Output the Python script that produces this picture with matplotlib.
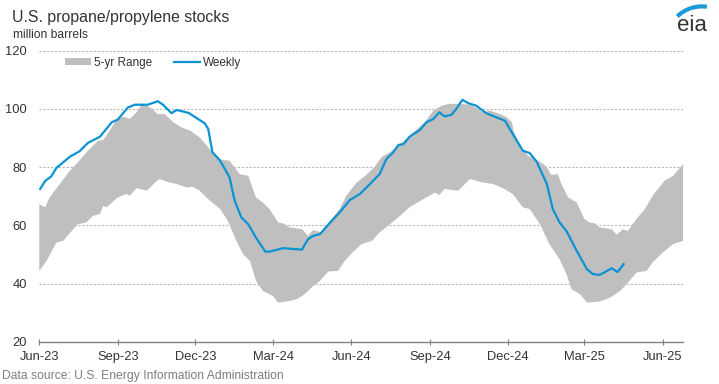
import matplotlib
matplotlib.use("Agg")
import matplotlib.pyplot as plt
import matplotlib.dates as mdates
from matplotlib.patches import Patch, Arc
from matplotlib.lines import Line2D
import numpy as np
import pandas as pd

plt.rcParams['font.family'] = ['Liberation Sans', 'DejaVu Sans']

# ---- data (million barrels) ----
weekly_dates = [
    "2023-06-02", "2023-06-08", "2023-06-15", "2023-06-21", "2023-07-07", "2023-07-18",
    "2023-07-28", "2023-08-11", "2023-08-25", "2023-09-01", "2023-09-13", "2023-09-21",
    "2023-10-06", "2023-10-18", "2023-10-24", "2023-11-03", "2023-11-09", "2023-11-23",
    "2023-12-02", "2023-12-12", "2023-12-16", "2023-12-21", "2023-12-30", "2024-01-10",
    "2024-01-16", "2024-01-24", "2024-02-01", "2024-02-10", "2024-02-21", "2024-02-26",
    "2024-03-13", "2024-03-25", "2024-04-04", "2024-04-11", "2024-04-17", "2024-04-25",
    "2024-05-07", "2024-05-18", "2024-05-30", "2024-06-11", "2024-06-22", "2024-07-04",
    "2024-07-12", "2024-07-20", "2024-07-26", "2024-08-01", "2024-08-08", "2024-08-20",
    "2024-08-28", "2024-09-05", "2024-09-12", "2024-09-18", "2024-09-26", "2024-10-02",
    "2024-10-09", "2024-10-16", "2024-10-25", "2024-11-06", "2024-11-16", "2024-11-28",
    "2024-12-07", "2024-12-19", "2024-12-27", "2025-01-04", "2025-01-16", "2025-01-23",
    "2025-01-31", "2025-02-08", "2025-02-20", "2025-03-04", "2025-03-11", "2025-03-19",
    "2025-04-02", "2025-04-09", "2025-04-16",
]
weekly_values = [
    72.5, 75.3, 76.8, 79.7, 83.6, 85.4,
    88.3, 90.4, 95.4, 96.3, 100.5, 101.4,
    101.4, 102.6, 101.4, 98.5, 99.6, 98.6,
    96.9, 95.0, 93.1, 85.1, 82.2, 76.5,
    68.5, 62.7, 60.4, 55.8, 51.0, 51.0,
    52.2, 51.9, 51.7, 55.3, 56.4, 57.0,
    61.0, 64.4, 68.7, 70.8, 74.0, 77.6,
    82.8, 85.1, 87.6, 87.9, 90.4, 92.7,
    95.4, 96.5, 98.8, 97.4, 97.9, 100.0,
    103.1, 101.9, 101.1, 98.5, 97.3, 95.9,
    91.4, 85.6, 84.8, 81.9, 74.2, 65.6,
    61.0, 58.1, 51.3, 45.0, 43.3, 43.0,
    45.3, 44.0, 46.7,
]

range_upper_dates = [
    "2023-06-01", "2023-06-08", "2023-06-13", "2023-06-25", "2023-07-07", "2023-07-16",
    "2023-07-28", "2023-08-09", "2023-08-15", "2023-08-25", "2023-08-31", "2023-09-08",
    "2023-09-15", "2023-09-23", "2023-09-29", "2023-10-05", "2023-10-11", "2023-10-18",
    "2023-10-26", "2023-11-05", "2023-11-15", "2023-11-25", "2023-12-06", "2023-12-16",
    "2023-12-24", "2024-01-01", "2024-01-10", "2024-01-22", "2024-02-01", "2024-02-10",
    "2024-02-18", "2024-02-26", "2024-03-07", "2024-03-13", "2024-03-21", "2024-04-04",
    "2024-04-11", "2024-04-17", "2024-04-27", "2024-05-07", "2024-05-18", "2024-05-26",
    "2024-06-07", "2024-06-17", "2024-06-27", "2024-07-07", "2024-07-16", "2024-07-28",
    "2024-08-07", "2024-08-17", "2024-08-26", "2024-09-05", "2024-09-15", "2024-09-24",
    "2024-10-06", "2024-10-18", "2024-10-27", "2024-11-02", "2024-11-10", "2024-11-22",
    "2024-11-30", "2024-12-06", "2024-12-08", "2024-12-15", "2024-12-25", "2025-01-06",
    "2025-01-16", "2025-01-21", "2025-01-29", "2025-02-02", "2025-02-10", "2025-02-20",
    "2025-03-01", "2025-03-07", "2025-03-13", "2025-03-19", "2025-04-02", "2025-04-08",
    "2025-04-15", "2025-04-21", "2025-05-01", "2025-05-11", "2025-05-20", "2025-06-03",
    "2025-06-13", "2025-06-25",
]
range_upper = [
    67.3, 66.2, 69.6, 74.2, 78.8, 81.6,
    85.6, 89.1, 89.3, 93.6, 96.5, 97.3,
    96.5, 98.8, 101.4, 101.1, 100.0, 98.2,
    98.2, 95.4, 93.6, 92.5, 90.2, 86.8,
    83.9, 82.5, 82.2, 77.6, 77.0, 69.6,
    67.9, 65.6, 61.0, 60.7, 59.3, 58.7,
    56.4, 58.4, 57.6, 61.6, 65.6, 70.2,
    74.7, 77.0, 79.7, 83.6, 85.1, 87.9,
    90.2, 93.1, 95.4, 99.4, 101.1, 101.7,
    101.7, 101.4, 100.0, 98.8, 99.4, 98.2,
    97.1, 95.4, 92.5, 87.4, 83.9, 82.2,
    80.1, 77.3, 77.6, 74.2, 69.6, 67.9,
    62.2, 61.0, 60.7, 59.3, 58.7, 56.8,
    58.7, 58.1, 62.2, 65.6, 70.2, 75.3,
    77.0, 81.1,
]

range_lower_dates = [
    "2023-06-01", "2023-06-10", "2023-06-21", "2023-06-29", "2023-07-09", "2023-07-16",
    "2023-07-26", "2023-08-03", "2023-08-11", "2023-08-15", "2023-08-19", "2023-08-31",
    "2023-09-11", "2023-09-15", "2023-09-23", "2023-10-05", "2023-10-17", "2023-10-20",
    "2023-11-01", "2023-11-09", "2023-11-21", "2023-11-28", "2023-12-06", "2023-12-18",
    "2023-12-30", "2024-01-08", "2024-01-18", "2024-01-26", "2024-02-03", "2024-02-10",
    "2024-02-18", "2024-03-01", "2024-03-07", "2024-03-17", "2024-03-29", "2024-04-07",
    "2024-04-17", "2024-04-25", "2024-05-05", "2024-05-16", "2024-05-24", "2024-06-03",
    "2024-06-13", "2024-06-25", "2024-07-04", "2024-07-16", "2024-07-28", "2024-08-08",
    "2024-08-24", "2024-09-07", "2024-09-12", "2024-09-18", "2024-10-04", "2024-10-18",
    "2024-11-02", "2024-11-14", "2024-11-26", "2024-12-07", "2024-12-19", "2024-12-27",
    "2025-01-08", "2025-01-19", "2025-01-31", "2025-02-08", "2025-02-14", "2025-02-24",
    "2025-03-04", "2025-03-19", "2025-03-31", "2025-04-12", "2025-04-23", "2025-05-01",
    "2025-05-13", "2025-05-20", "2025-06-01", "2025-06-13", "2025-06-25",
]
range_lower = [
    44.4, 48.1, 54.1, 54.7, 58.1, 60.4,
    61.0, 63.3, 63.9, 66.7, 66.2, 69.4,
    70.8, 70.2, 72.8, 71.9, 75.3, 75.9,
    74.7, 74.2, 73.0, 73.3, 71.9, 68.5,
    65.6, 61.6, 54.7, 50.1, 47.8, 41.0,
    37.5, 35.8, 33.5, 33.9, 34.7, 36.4,
    39.2, 41.0, 44.2, 44.4, 47.8, 51.0,
    53.6, 54.7, 57.6, 60.4, 63.3, 66.2,
    69.0, 71.3, 70.4, 72.5, 71.9, 75.9,
    74.7, 74.2, 72.7, 70.8, 66.2, 65.6,
    60.4, 53.6, 48.4, 43.3, 38.1, 36.4,
    33.5, 33.9, 35.2, 37.5, 41.0, 43.8,
    44.4, 47.3, 50.7, 53.6, 54.7,
]

tick_dates = ["2023-06-01", "2023-09-01", "2023-12-01", "2024-03-01", "2024-06-01",
              "2024-09-01", "2024-12-01", "2025-03-01", "2025-06-01"]
tick_labels = ["Jun-23", "Sep-23", "Dec-23", "Mar-24", "Jun-24",
               "Sep-24", "Dec-24", "Mar-25", "Jun-25"]
y_ticks = [20, 40, 60, 80, 100, 120]

# ---- figure ----
W, H = 719, 384
fig = plt.figure(figsize=(W / 100, H / 100), dpi=100)
ax = fig.add_axes([39.3 / W, 1 - 342 / H, (683.3 - 39.3) / W, (342 - 50.5) / H])

band_color = "#bfbfbf"
line_color = "#0a93d5"
text_color = "#333333"

ud = pd.to_datetime(range_upper_dates)
ld = pd.to_datetime(range_lower_dates)
poly_x = np.concatenate([mdates.date2num(ud), mdates.date2num(ld)[::-1]])
poly_y = np.concatenate([np.array(range_upper), np.array(range_lower)[::-1]])
ax.fill(poly_x, poly_y, color=band_color, lw=0, zorder=2)

ax.plot(pd.to_datetime(weekly_dates), weekly_values, color=line_color, lw=1.6, zorder=3)

ax.set_xlim(mdates.date2num(pd.Timestamp("2023-06-01")), mdates.date2num(pd.Timestamp("2025-06-25")))
ax.set_ylim(20, 120)
ax.set_yticks(y_ticks)
ax.set_yticklabels([str(v) for v in y_ticks])
ax.set_xticks(mdates.date2num(pd.to_datetime(tick_dates)))
ax.set_xticklabels(tick_labels)

for v in y_ticks[1:]:
    ax.axhline(v, color="#b8b8b8", lw=0.8, ls=(0, (2, 1.5)), zorder=1)

for s in ["top", "right", "left"]:
    ax.spines[s].set_visible(False)
ax.spines["bottom"].set_color("#808080")
ax.spines["bottom"].set_linewidth(1.0)
ax.tick_params(axis="y", length=0, labelsize=9.3, labelcolor=text_color, pad=9)
ax.tick_params(axis="x", direction="inout", length=5, color="#808080", labelsize=9.3,
               labelcolor=text_color, pad=4)

# legend
handles = [Patch(facecolor=band_color, edgecolor="none"),
           Line2D([0], [0], color=line_color, lw=1.6)]
leg = fig.legend(handles, ["5-yr Range", "Weekly"], loc="center left",
                 bbox_to_anchor=(54 / W, 1 - 63 / H), ncol=2, frameon=False,
                 fontsize=8.5, handlelength=2.2, handleheight=0.5, columnspacing=1.9,
                 handletextpad=0.25)
for t in leg.get_texts():
    t.set_color(text_color)

# titles
fig.text(12 / W, 1 - 22 / H, "U.S. propane/propylene stocks", fontsize=11.4,
         color=text_color, ha="left", va="baseline")
fig.text(13 / W, 1 - 38 / H, "million barrels", fontsize=8.7,
         color=text_color, ha="left", va="baseline")
fig.text(2 / W, 1 - 379 / H, "Data source: U.S. Energy Information Administration",
         fontsize=8.7, color="#7f7f7f", ha="left", va="baseline")

# eia logo
fig.text(692 / W, 1 - 31 / H, "eia", fontsize=16, color="#333333", ha="center",
         va="baseline")
logo_ax = fig.add_axes([672 / W, 1 - 20 / H, 40 / W, 18 / H])
logo_ax.set_xlim(0, 40)
logo_ax.set_ylim(0, 18)
logo_ax.axis("off")
logo_ax.add_patch(Arc((30, -22), 71.2, 71.2, theta1=82, theta2=134,
                      color="#1a9ad6", lw=3))

fig.savefig("out.png", dpi=100)
